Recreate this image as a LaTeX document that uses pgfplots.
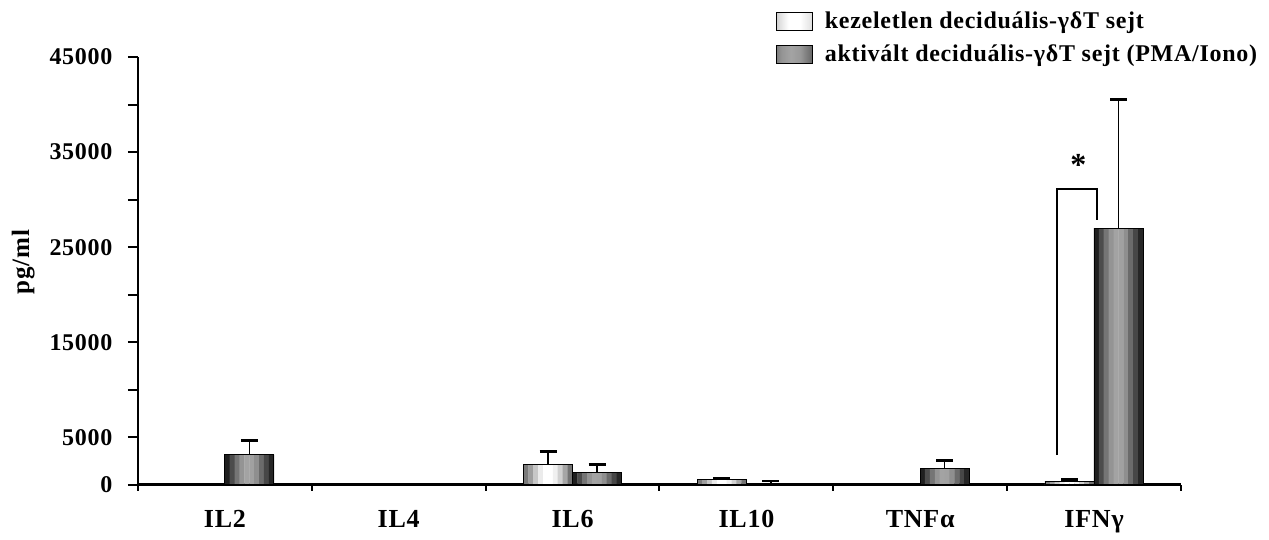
\documentclass[border=0pt]{standalone}
\usepackage{fontspec}
\setmainfont{Liberation Serif}
\newfontfamily\lsfont[LetterSpace=3]{Liberation Serif}
\usepackage{pgfplots}
\usepackage{pgfplotstable}
\pgfplotsset{compat=1.18}
\pgfdeclarehorizontalshading{ctrlshade}{100bp}{color(0bp)=(black!52); color(12bp)=(black!38); color(30bp)=(black!12); color(42bp)=(white); color(58bp)=(white); color(72bp)=(black!10); color(88bp)=(black!35); color(100bp)=(black!58)}
\pgfdeclarehorizontalshading{actshade}{100bp}{color(0bp)=(black!90); color(15bp)=(black!65); color(32bp)=(black!42); color(45bp)=(black!36); color(58bp)=(black!40); color(75bp)=(black!60); color(90bp)=(black!78); color(100bp)=(black!88)}
% stepped gradients for the bars
\colorlet{c0}{black!52}\colorlet{c1}{black!38}\colorlet{c2}{black!22}\colorlet{c3}{black!8}\colorlet{c4}{white}
\colorlet{c5}{white}\colorlet{c6}{black!6}\colorlet{c7}{black!18}\colorlet{c8}{black!35}\colorlet{c9}{black!55}
\colorlet{a0}{black!88}\colorlet{a1}{black!70}\colorlet{a2}{black!54}\colorlet{a3}{black!42}\colorlet{a4}{black!36}
\colorlet{a5}{black!37}\colorlet{a6}{black!44}\colorlet{a7}{black!58}\colorlet{a8}{black!72}\colorlet{a9}{black!85}
\pgfplotstableread{
x y err
2.5 2180 1320
3.5 600 100
5.5 400 200
}\ctrltab
\pgfplotstableread{
x y err
0.5 3200 1450
2.5 1330 800
3.5 100 300
4.5 1750 800
5.5 27000 13500
}\acttab
\newcommand\strip[3]{\addplot[ybar, bar width=2.6pt, bar shift=#2pt, fill=#3, draw=none, forget plot] table[x=x,y=y] {#1};}
\pgfplotsset{errstyle/.style={forget plot, draw=none, mark=none,
  error bars/.cd, y dir=plus, y explicit,
  error bar style={draw=black, solid, line width=0.7pt},
  error mark options={draw=black, solid, line width=1.3pt, mark size=4.25pt, rotate=90}}}
\begin{document}
\begin{tikzpicture}[x=1pt,y=1pt]
\path (-69,-23) rectangle (565.5,242.5);
\begin{axis}[
  at={(0,0)}, anchor=south west,
  scale only axis, width=521.5pt, height=214pt,
  xmin=0, xmax=6, ymin=0, ymax=45000,
  axis x line=bottom, axis y line=left,
  x axis line style={-, line width=1.5pt},
  y axis line style={-, line width=1pt},
  tick align=outside,
  xtick={0,...,6}, x tick label as interval,
  xticklabels={IL2,IL4,IL6,IL10,TNFα,IFNγ},
  xtick style={black, line width=1pt, /pgfplots/major tick length=3pt},
  ytick={0,5000,...,45000},
  yticklabels={0,5000,,15000,,25000,,35000,,45000},
  ytick style={black, line width=1pt, /pgfplots/major tick length=5pt},
  scaled y ticks=false,
  yticklabel style={font=\fontsize{12}{14}\lsfont\bfseries, xshift=-5pt},
  xticklabel style={font=\fontsize{13}{15}\lsfont\bfseries, yshift=-5pt},
  ylabel={pg/ml},
  ylabel style={at={(axis description cs:-0.110,0.521)}, anchor=center, rotate=0, font=\fontsize{12.5}{14}\lsfont\bfseries},
  legend style={draw=none, fill=none, at={(axis description cs:0.611,1.116)}, anchor=north west,
    font=\fontsize{12}{14}\lsfont\bfseries, row sep=2.5pt, inner sep=0pt,
    nodes={inner sep=2pt, anchor=west}},
  legend cell align=left,
  clip=false,
]
\strip{\ctrltab}{-23.275}{c0}\strip{\ctrltab}{-20.825}{c1}\strip{\ctrltab}{-18.375}{c2}
\strip{\ctrltab}{-15.925}{c3}\strip{\ctrltab}{-13.475}{c4}\strip{\ctrltab}{-11.025}{c5}
\strip{\ctrltab}{-8.575}{c6}\strip{\ctrltab}{-6.125}{c7}\strip{\ctrltab}{-3.675}{c8}
\strip{\ctrltab}{-1.225}{c9}
\strip{\acttab}{1.225}{a0}\strip{\acttab}{3.675}{a1}\strip{\acttab}{6.125}{a2}
\strip{\acttab}{8.575}{a3}\strip{\acttab}{11.025}{a4}\strip{\acttab}{13.475}{a5}
\strip{\acttab}{15.925}{a6}\strip{\acttab}{18.375}{a7}\strip{\acttab}{20.825}{a8}
\strip{\acttab}{23.275}{a9}
% error bars, at the centres of the bars (12.25pt = 0.14094 x units)
\addplot[errstyle] table[x expr=\thisrow{x}-0.14094, y=y, y error=err] {\ctrltab};
\addplot[errstyle] table[x expr=\thisrow{x}+0.14094, y=y, y error=err] {\acttab};
% bar outlines and legend
\addplot[ybar, bar width=24.5pt, bar shift=-12.25pt, draw=black, line width=0.5pt, fill=none,
  legend image code/.code={\draw[draw=black, line width=0.6pt, shading=ctrlshade] (0pt,-4.5pt) rectangle (18pt,4.5pt);}]
  table[x=x, y=y] {\ctrltab};
\addlegendentry{\hspace{4pt}kezeletlen deciduális-γδT sejt}
\addplot[ybar, bar width=24.5pt, bar shift=12.25pt, draw=black, line width=0.5pt, fill=none,
  legend image code/.code={\draw[draw=black, line width=0.6pt, shading=actshade] (0pt,-4.5pt) rectangle (18pt,4.5pt);}]
  table[x=x, y=y] {\acttab};
\addlegendentry{\hspace{4pt}aktivált deciduális-γδT sejt (PMA/Iono)}
\draw[line width=0.8pt] (axis cs:5.288,3150) |- (axis cs:5.518,31125) -- (axis cs:5.518,27860);
\node[font=\fontsize{16}{16}\selectfont\bfseries, inner sep=0pt] at (axis cs:5.41,33700) {*};
\end{axis}
\end{tikzpicture}
\end{document}
